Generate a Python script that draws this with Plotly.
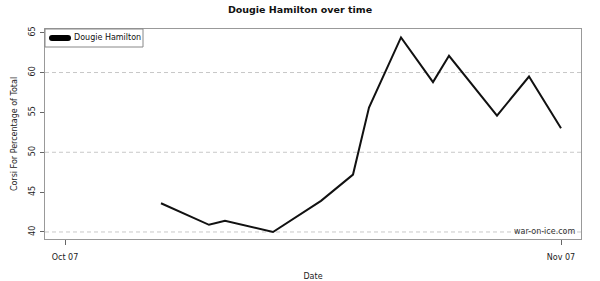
import plotly.graph_objects as go

dates = ["2014-10-13", "2014-10-16", "2014-10-17", "2014-10-20", "2014-10-23",
         "2014-10-25", "2014-10-26", "2014-10-28", "2014-10-30", "2014-10-31",
         "2014-11-03", "2014-11-05", "2014-11-07"]
corsi = [43.6, 40.9, 41.4, 40.0, 43.9, 47.2, 55.6, 64.4, 58.8, 62.1, 54.6, 59.5, 53.0]
player = "Dougie Hamilton"
grid_vals = [40, 50, 60]
xtick_vals = ["2014-10-07", "2014-11-07"]
xtick_text = ["Oct 07", "Nov 07"]
ytick_vals = [40, 45, 50, 55, 60, 65]

fig = go.Figure()
fig.add_trace(go.Scatter(x=dates, y=corsi, mode="lines", name=player,
                         line=dict(color="#111111", width=2), showlegend=False))

for v in grid_vals:
    fig.add_hline(y=v, line=dict(color="#c8c8c8", width=1, dash="4px,3px"), layer="below")

# manual legend box (plot area 536 x 210 px)
fig.add_shape(type="rect", xref="paper", yref="paper", x0=0, x1=98/536, y0=1-18/210, y1=1,
              line=dict(color="#888", width=1), fillcolor="white", layer="above")
fig.add_shape(type="line", xref="paper", yref="paper", x0=7/536, x1=23/536,
              y0=1-9/210, y1=1-9/210, line=dict(color="#000", width=6), layer="above")
fig.add_shape(type="circle", xref="paper", yref="paper", x0=4/536, x1=10/536,
              y0=1-12/210, y1=1-6/210, line=dict(width=0), fillcolor="#000", layer="above")
fig.add_shape(type="circle", xref="paper", yref="paper", x0=20/536, x1=26/536,
              y0=1-12/210, y1=1-6/210, line=dict(width=0), fillcolor="#000", layer="above")
fig.add_annotation(text=player, xref="paper", yref="paper", x=27/536, y=1-9/210,
                   xanchor="left", yanchor="middle", showarrow=False,
                   font=dict(size=8, color="#111"))

fig.update_layout(
    width=600, height=281,
    margin=dict(l=45, r=19, t=29, b=42),
    paper_bgcolor="white", plot_bgcolor="white",
    font=dict(family="DejaVu Sans", size=8, color="#222"),
    title=dict(text="<b>Dougie Hamilton over time</b>", x=0.5, xanchor="center",
               y=0.965, yanchor="middle", font=dict(size=9.5, color="#111")),
    showlegend=False,
    xaxis=dict(type="date", range=["2014-10-05 18:00", "2014-11-08 06:00"],
               tickvals=xtick_vals, ticktext=xtick_text, ticks="outside",
               ticklen=5, tickcolor="#666", showgrid=False, zeroline=False,
               showline=True, linecolor="#999", mirror=True, ticklabelstandoff=5,
               automargin=False, tickfont=dict(color="#222"),
               title=dict(text="Date", standoff=12, font=dict(size=8, color="#222"))),
    yaxis=dict(range=[39.12, 65.46], tickvals=ytick_vals, ticks="outside",
               ticklen=4, tickcolor="#666", tickangle=-90, showgrid=False,
               zeroline=False, showline=True, linecolor="#999", mirror=True,
               automargin=False, ticklabelstandoff=2, tickfont=dict(color="#222"),
               title=dict(text="Corsi For Percentage of Total", standoff=8,
                          font=dict(size=8, color="#222"))),
)

fig.add_annotation(text="war-on-ice.com", xref="paper", yref="paper", x=0.993, y=0.005,
                   xanchor="right", yanchor="bottom", showarrow=False,
                   font=dict(size=8, color="#333"))

fig.write_html("out.html")
